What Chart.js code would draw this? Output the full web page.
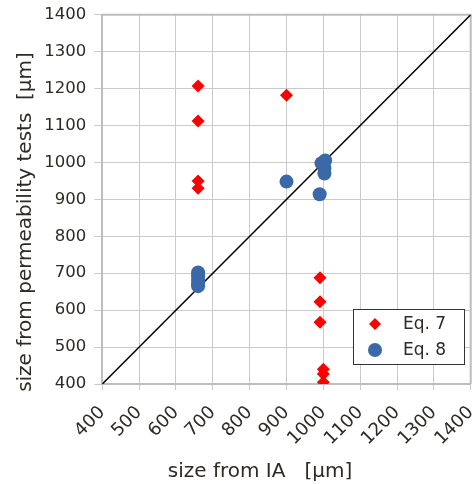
<!DOCTYPE html>
<html>
<head>
<meta charset="utf-8">
<script src="https://cdn.jsdelivr.net/npm/chart.js@4/dist/chart.umd.min.js"></script>
<style>
html,body{margin:0;padding:0;background:#fff;}
#wrap{width:472px;height:484px;position:relative;}
</style>
</head>
<body>
<div id="wrap"><canvas id="c" width="472" height="484"></canvas></div>
<script>
const xTickValues = [400, 500, 600, 700, 800, 900, 1000, 1100, 1200, 1300, 1400];
const yTickValues = [400, 500, 600, 700, 800, 900, 1000, 1100, 1200, 1300, 1400];
const seriesNames = ['Eq. 7', 'Eq. 8'];
const eq7X = [660, 660, 660, 660, 900, 991, 991, 991, 1000, 1000, 1000];
const eq7Y = [1207, 1112, 950, 930, 1182, 688, 623, 567, 440, 427, 405];
const eq8X = [660, 660, 660, 660, 660, 900, 995, 1005, 1003, 1003, 990];
const eq8Y = [702, 692, 682, 672, 665, 948, 998, 1005, 985, 970, 914];
const refLineX = [400, 1400];
const refLineY = [400, 1400];
const xTitle = 'size from IA   [µm]';
const yTitle = 'size from permeability tests  [µm]';

const FONT = 'DejaVu Sans';
const RED = '#ff0000';
const BLUE = '#3a68a9';
const TEXT = '#2e2a26';

const toPts = (xs, ys) => xs.map((x, i) => ({x: x, y: ys[i]}));

const framePlugin = {
  id: 'frame',
  beforeDatasetsDraw(chart) {
    const a = chart.chartArea, ctx = chart.ctx;
    ctx.save();
    ctx.strokeStyle = '#bdbdbd';
    ctx.lineWidth = 2;
    ctx.beginPath();
    ctx.moveTo(a.left, a.top);
    ctx.lineTo(a.right, a.top);
    ctx.lineTo(a.right, a.bottom);
    ctx.stroke();
    ctx.restore();
  }
};

const overlayPlugin = {
  id: 'overlay',
  afterDraw(chart) {
    const ctx = chart.ctx;
    ctx.save();
    ctx.fillStyle = TEXT;
    ctx.font = '20px "' + FONT + '"';
    ctx.textAlign = 'center';
    ctx.textBaseline = 'alphabetic';
    ctx.fillText(xTitle, 260, 477);
    ctx.translate(31, 222);
    ctx.rotate(-Math.PI / 2);
    ctx.fillText(yTitle, 0, 0);
    ctx.restore();

    ctx.save();
    const bx = 353.5, by = 309.5, bw = 111, bh = 55;
    ctx.fillStyle = '#ffffff';
    ctx.fillRect(bx, by, bw, bh);
    ctx.strokeStyle = '#333333';
    ctx.lineWidth = 1;
    ctx.strokeRect(bx, by, bw, bh);
    const ds = chart.data.datasets;
    const rows = [{y: 324, i: 0}, {y: 350, i: 1}];
    rows.forEach(r => {
      const d = ds[r.i];
      ctx.fillStyle = d.backgroundColor;
      if (d.pointStyle === 'rectRot') {
        const s = 6;
        ctx.beginPath();
        ctx.moveTo(375, r.y - s);
        ctx.lineTo(375 + s, r.y);
        ctx.lineTo(375, r.y + s);
        ctx.lineTo(375 - s, r.y);
        ctx.closePath();
        ctx.fill();
      } else {
        ctx.beginPath();
        ctx.arc(375, r.y, 7, 0, Math.PI * 2);
        ctx.fill();
      }
      ctx.fillStyle = TEXT;
      ctx.font = '17px "' + FONT + '"';
      ctx.textAlign = 'left';
      ctx.textBaseline = 'middle';
      ctx.fillText(d.label, 403, r.y + 1);
    });
    ctx.restore();
  }
};

const gridOpts = {color: '#cacaca', lineWidth: 1, drawTicks: true};

new Chart(document.getElementById('c'), {
  type: 'scatter',
  data: {
    datasets: [
      {
        label: seriesNames[0],
        data: toPts(eq7X, eq7Y),
        backgroundColor: RED,
        borderColor: RED,
        pointStyle: 'rectRot',
        pointRadius: 6.5,
        pointBorderWidth: 0,
        pointHoverRadius: 6.5
      },
      {
        label: seriesNames[1],
        data: toPts(eq8X, eq8Y),
        backgroundColor: BLUE,
        borderColor: BLUE,
        pointStyle: 'circle',
        pointRadius: 7,
        pointBorderWidth: 0,
        pointHoverRadius: 7
      },
      {
        type: 'line',
        label: 'y = x',
        data: toPts(refLineX, refLineY),
        borderColor: '#000000',
        borderWidth: 1.5,
        pointRadius: 0,
        fill: false
      }
    ]
  },
  options: {
    responsive: false,
    animation: false,
    events: [],
    layout: {autoPadding: false, padding: {left: 0, right: 1.3, top: 14.7, bottom: 0}},
    plugins: {legend: {display: false}, tooltip: {enabled: false}},
    scales: {
      x: {
        type: 'linear',
        min: 400, max: 1400,
        afterBuildTicks: s => { s.ticks = xTickValues.map(v => ({value: v})); },
        ticks: {
          minRotation: 45, maxRotation: 45,
          color: TEXT,
          font: {family: FONT, size: 18},
          padding: 12,
          callback: v => String(v)
        },
        grid: Object.assign({}, gridOpts, {tickLength: 6}),
        border: {color: '#bdbdbd', width: 2},
        afterFit: s => { s.height = 100; s.paddingLeft = 0; s.paddingRight = 0; }
      },
      y: {
        type: 'linear',
        min: 400, max: 1400,
        afterBuildTicks: s => { s.ticks = yTickValues.map(v => ({value: v})); },
        ticks: {
          color: TEXT,
          font: {family: FONT, size: 16.5},
          padding: 8,
          callback: v => String(v)
        },
        grid: Object.assign({}, gridOpts, {tickLength: 8}),
        border: {color: '#bdbdbd', width: 2},
        afterFit: s => { s.width = 102.3; s.paddingTop = 0; s.paddingBottom = 0; }
      }
    }
  },
  plugins: [framePlugin, overlayPlugin]
});
</script>
</body>
</html>
